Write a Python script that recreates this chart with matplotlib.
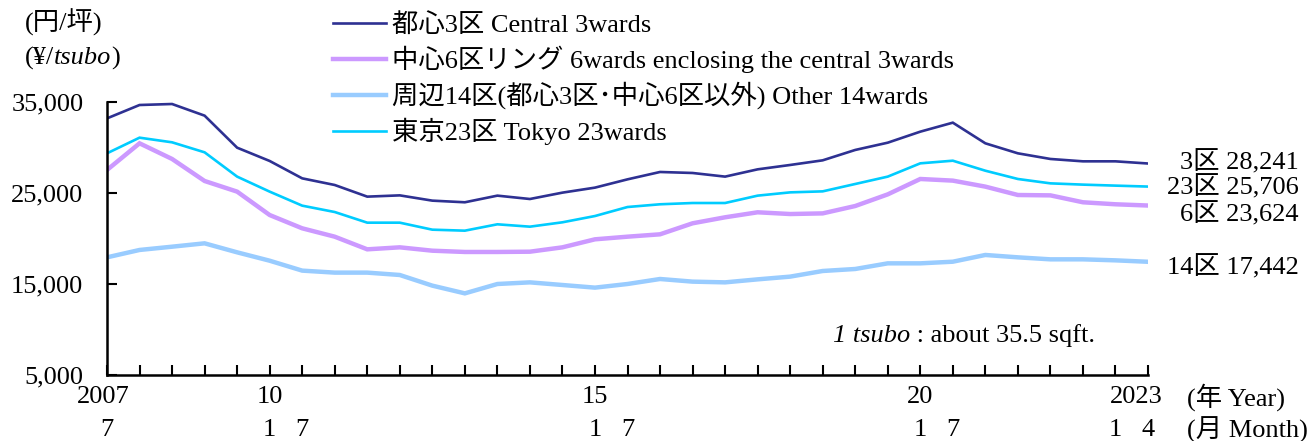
import numpy as np
import matplotlib
matplotlib.use("Agg")
import matplotlib.pyplot as plt

plt.rcParams['font.family'] = ['Liberation Serif', 'Noto Sans CJK JP']

# half-year periods, 2007/7 ... 2023/1, then 2023/4
periods = ["2007/7"] + [f"{y}/{m}" for y in range(2008, 2023) for m in (1, 7)] + ["2023/1", "2023/4"]

central3 = [33200, 34670, 34780, 33500, 29980, 28520, 26610, 25880, 24600, 24740,
            24160, 23980, 24710, 24340, 25040, 25590, 26500, 27310, 27200, 26800,
            27600, 28080, 28590, 29730, 30530, 31740, 32730, 30460, 29360, 28740,
            28480, 28480, 28241]
ring6 = [27530, 30460, 28740, 26320, 25150, 22580, 21120, 20200, 18810, 19030,
         18660, 18520, 18520, 18550, 19030, 19910, 20200, 20460, 21670, 22330,
         22880, 22690, 22760, 23570, 24850, 26540, 26360, 25700, 24780, 24740,
         23980, 23760, 23624]
other14 = [17930, 18740, 19100, 19470, 18480, 17560, 16470, 16250, 16250, 15990,
           14820, 13970, 15000, 15180, 14890, 14600, 15000, 15550, 15260, 15180,
           15510, 15810, 16430, 16650, 17270, 17270, 17450, 18190, 17930, 17710,
           17710, 17600, 17442]
tokyo23 = [29360, 31080, 30570, 29470, 26800, 25150, 23610, 22910, 21740, 21740,
           20970, 20860, 21560, 21300, 21780, 22470, 23460, 23760, 23900, 23900,
           24710, 25070, 25180, 25990, 26800, 28260, 28550, 27450, 26540, 26060,
           25920, 25810, 25706]

series_names = ["都心3区 Central 3wards",
                "中心6区リング 6wards enclosing the central 3wards",
                "周辺14区(都心3区･中心6区以外) Other 14wards",
                "東京23区 Tokyo 23wards"]
end_labels = ["3区 28,241", "6区 23,624", "14区 17,442", "23区 25,706"]
end_label_y = [28350, 22700, 16870, 25680]

year_labels = ["2007", "10", "15", "20", "2023"]
year_pos = [-0.1, 5, 15, 25, 31.65]
month_labels = ["7", "1", "7", "1", "7", "1", "7", "1", "4"]
month_pos = [0, 5, 6, 15, 16, 25, 26, 31, 32]

colors = ["#2E3192", "#CC99FF", "#99CCFF", "#00CCFF"]
widths = [1.9, 3.2, 3.2, 1.9]

x = np.arange(len(periods))
fig = plt.figure(figsize=(13.13, 4.41), dpi=100)
ax = fig.add_axes([107/1313, 1-375/441, (1148-107)/1313, (375-102)/441])

data = [central3, ring6, other14, tokyo23]
for vals, c, w, name in zip(data, colors, widths, series_names):
    ax.plot(x, vals, color=c, lw=w, label=name, solid_joinstyle='miter')

fs = 19
ax.set_xlim(0, len(x)-1)
ax.set_ylim(5000, 35000)
ax.set_yticks([5000, 15000, 25000, 35000])
ax.set_yticklabels([f"{v:,}" for v in [5000, 15000, 25000, 35000]], fontsize=fs)
ax.set_xticks(x)
ax.set_xticklabels([])
ax.tick_params(axis='both', direction='in', length=7, width=1.5, color='black')
ax.tick_params(axis='y', pad=17)
for s in ['top', 'right']:
    ax.spines[s].set_visible(False)
for s in ['left', 'bottom']:
    ax.spines[s].set_linewidth(1.8)

tr = ax.get_xaxis_transform()
for lab, p in zip(year_labels, year_pos):
    ax.text(p, -22/273, lab, transform=tr, ha='center', va='center', fontsize=fs)
for lab, p in zip(month_labels, month_pos):
    ax.text(p, -55/273, lab, transform=tr, ha='center', va='center', fontsize=fs)
ax.text(33.2, -22/273, "(年 Year)", transform=tr, ha='left', va='center', fontsize=fs)
ax.text(33.2, -55/273, "(月 Month)", transform=tr, ha='left', va='center', fontsize=fs)

ty = ax.get_yaxis_transform()
for lab, yv in zip(end_labels, end_label_y):
    ax.text((1299-107)/1041, yv, lab, transform=ty, ha='right', va='center', fontsize=fs)

t1 = ax.text((833-107)/1041, 9300, "1 tsubo", transform=ty, ha='left', va='center',
             fontsize=fs, style='italic')
ax.annotate(" : about 35.5 sqft.", xy=(1, 0.5), xycoords=t1, ha='left', va='center',
            fontsize=fs)

u2 = fig.text(25/1313, 1-58/441, "(¥/", ha='left', va='center', fontsize=fs)
fig.text(25/1313, 1-22/441, "(円/坪)", ha='left', va='center', fontsize=fs)
u3 = ax.annotate("tsubo", xy=(1, 0.5), xycoords=u2, ha='left', va='center',
                 fontsize=fs, style='italic', annotation_clip=False)
ax.annotate(")", xy=(1, 0.5), xycoords=u3, ha='left', va='center', fontsize=fs,
            annotation_clip=False)

fig.legend(loc='upper left', bbox_to_anchor=(333/1313, 1-13/441), frameon=False,
           fontsize=fs, handlelength=2.0, handletextpad=0.25, labelspacing=0.33,
           borderpad=0, borderaxespad=0)

fig.savefig("out.png", dpi=100)
